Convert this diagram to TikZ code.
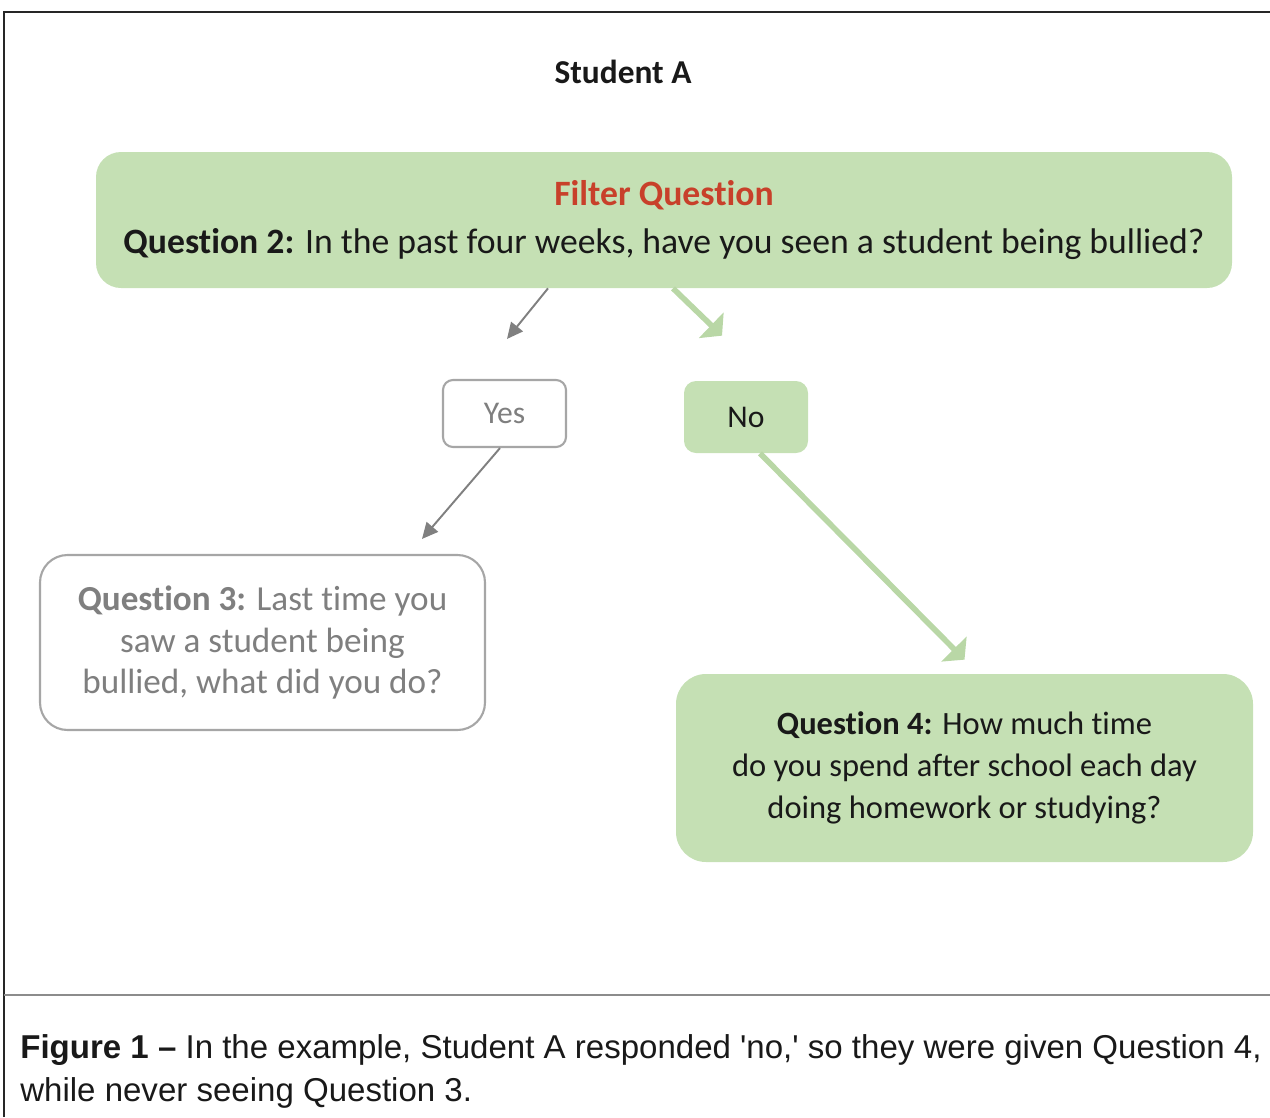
\documentclass[tikz,border=0pt]{standalone}
\usepackage{fontspec}
\setmainfont{Carlito}[Ligatures={NoCommon}]
\newfontfamily\capfont{Liberation Sans}
\usetikzlibrary{arrows.meta,positioning}
\definecolor{boxgreen}{HTML}{C5E0B4}
\definecolor{arrowgreen}{HTML}{B9D7A6}
\definecolor{boxgrey}{HTML}{A6A6A6}
\definecolor{textgrey}{HTML}{7F7F7F}
\definecolor{arrowgrey}{HTML}{808080}
\definecolor{filterred}{HTML}{C8402A}
\definecolor{framedark}{HTML}{262626}
\definecolor{framegrey}{HTML}{8C8C8C}

\begin{document}
\begin{tikzpicture}[
  every node/.style={font=\fontsize{20.3}{27}\selectfont, inner sep=0pt, align=center, text=black!90},
  greenbox/.style={rectangle, fill=boxgreen},
  greybox/.style={rectangle, draw=boxgrey, line width=1.2pt, fill=white, text=textgrey},
  greyarrow/.style={draw=arrowgrey, line width=1.1pt, -{Triangle[length=0.32cm,width=0.3cm]}},
  greenarrow/.style={draw=arrowgreen, line width=3.2pt, -{Triangle[length=0.3cm,width=0.7cm]}}
]
\useasboundingbox (0,0) rectangle (25.4,-22.34);
\draw[line width=1.6pt, framedark] (0.08,-22.34) -- (0.08,-0.24) -- (25.4,-0.24);
\draw[line width=1.2pt, framegrey] (0.08,-19.9) -- (25.4,-19.9);

\node[font=\bfseries\fontsize{19}{22}\selectfont] (title) at (12.46,-1.44) {Student A};
\node[greenbox, rounded corners=0.5cm, minimum width=22.72cm, minimum height=2.72cm] (q2) at (13.28,-4.4)
  {{\bfseries\color{filterred}Filter Question}\\ \textbf{Question 2:} In the past four weeks, have you seen a student being bullied?};
\node[greybox, rounded corners=0.2cm, minimum width=2.46cm, minimum height=1.34cm,
  font=\fontsize{18}{22}\selectfont] (yes) at (10.09,-8.27) {Yes};
\node[greenbox, rounded corners=0.24cm, minimum width=2.48cm, minimum height=1.44cm,
  font=\fontsize{18}{22}\selectfont] (no) at (14.92,-8.34) {No};
\node[greybox, rounded corners=0.55cm, minimum width=8.9cm, minimum height=3.5cm,
  font=\fontsize{20}{23.5}\selectfont] (q3) at (5.25,-12.85)
  {\textbf{Question 3:} Last time you\\ saw a student being\\ bullied, what did you do?};
\node[greenbox, rounded corners=0.6cm, minimum width=11.54cm, minimum height=3.76cm,
  font=\fontsize{18.5}{24}\selectfont] (q4) at (19.29,-15.36)
  {\textbf{Question 4:} How much time\\ do you spend after school each day\\ doing homework or studying?};

\draw[greyarrow] ([xshift=-2.32cm]q2.south) -- ([xshift=0.05cm,yshift=0.8cm]yes.north);
\draw[greenarrow] ([xshift=0.18cm]q2.south) -- ([xshift=-0.48cm,yshift=0.9cm]no.north);
\draw[greyarrow] ([xshift=-0.09cm]yes.south) -- ([xshift=3.19cm,yshift=0.3cm]q3.north);
\draw[greenarrow] ([xshift=0.28cm]no.south) -- ([yshift=0.28cm]q4.north);

\node[anchor=west, align=left, font=\capfont\fontsize{18.8}{24.5}\selectfont] (caption) at (0.4,-21.43)
  {\textbf{Figure 1 –} In the example, Student A responded 'no,' so they were given Question 4,\\ while never seeing Question 3.};
\end{tikzpicture}
\end{document}
